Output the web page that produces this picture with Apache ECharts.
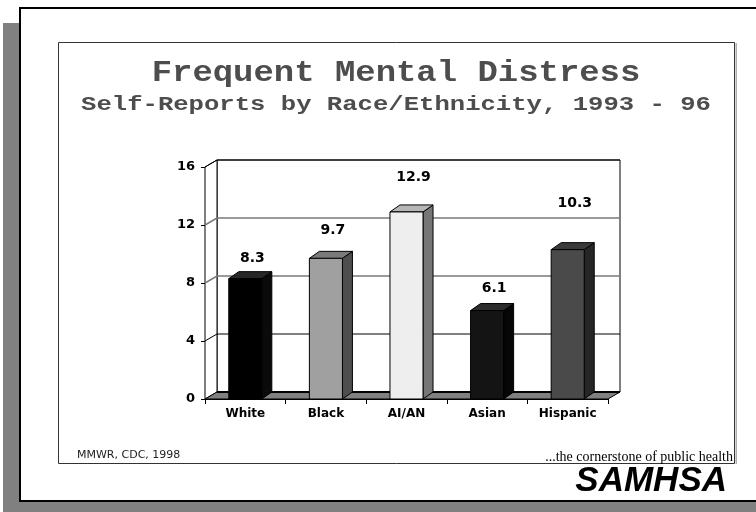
<!DOCTYPE html>
<html>
<head>
<meta charset="utf-8">
<style>
html, body { margin: 0; padding: 0; background: #fff; }
#chart { width: 756px; height: 512px; }
</style>
<script src="https://cdn.jsdelivr.net/npm/echarts@6/dist/echarts.min.js"></script>
</head>
<body>
<div id="chart"></div>
<script>
var categories = ['White', 'Black', 'AI/AN', 'Asian', 'Hispanic'];
var values = [8.3, 9.7, 12.9, 6.1, 10.3];
var yTicks = [0, 4, 8, 12, 16];

// bar faces: front, side, top
var barColors = [
  ['#000000', '#0a0a0a', '#262626'],
  ['#a0a0a0', '#4e4e4e', '#7a7a7a'],
  ['#eeeeee', '#767676', '#b6b6b6'],
  ['#141414', '#060606', '#2c2c2c'],
  ['#4a4a4a', '#262626', '#3a3a3a']
];
// how far each value label sits above its bar in the slide (px)
var labelLift = [20, 28, 35, 22, 46];
var gridColors = { 4: '#000', 8: '#7a7a7a', 12: '#7a7a7a', 16: '#000' };

var WALL_DX = 12, WALL_DY = -7;
var BAR_DX = 10, BAR_DY = -7;

var chart = echarts.init(document.getElementById('chart'));

function renderFrame(params, api) {
  var cs = params.coordSys;
  var x0 = cs.x, x1 = cs.x + cs.width, yt = cs.y, yb = cs.y + cs.height;
  var dx = WALL_DX, dy = WALL_DY;
  var kids = [];
  kids.push({ type: 'rect', shape: { x: x0 + dx, y: yt + dy, width: cs.width, height: cs.height },
    style: { fill: '#fff', stroke: '#000', lineWidth: 1 } });
  kids.push({ type: 'polygon', shape: { points: [[x0, yt], [x0 + dx, yt + dy], [x0 + dx, yb + dy], [x0, yb]] },
    style: { fill: '#fff', stroke: '#000', lineWidth: 1 } });
  yTicks.forEach(function (t) {
    if (t === 0) return;
    var y = api.coord([0, t])[1];
    kids.push({ type: 'polyline', shape: { points: [[x0, y], [x0 + dx, y + dy], [x1 + dx, y + dy]] },
      style: { fill: null, stroke: gridColors[t], lineWidth: (t === 8 || t === 12) ? 1.5 : 1 } });
  });
  kids.push({ type: 'polygon', shape: { points: [[x0, yb], [x0 + dx, yb + dy], [x1 + dx, yb + dy], [x1, yb]] },
    style: { fill: '#808080', stroke: '#000', lineWidth: 1 } });
  kids.push({ type: 'line', shape: { x1: x0 + dx, y1: yb + dy, x2: x1 + dx, y2: yb + dy },
    style: { stroke: '#000', lineWidth: 2 } });
  return { type: 'group', children: kids };
}

function renderBar(params, api) {
  var i = api.value(0), v = api.value(1);
  var top = api.coord([i, v]);
  var base = api.coord([i, 0]);
  var w = api.size([1, 0])[0] * 0.41;
  var xl = top[0] - w / 2, xr = top[0] + w / 2;
  var c = barColors[i];
  return { type: 'group', children: [
    { type: 'polygon', shape: { points: [[xr, top[1]], [xr + BAR_DX, top[1] + BAR_DY], [xr + BAR_DX, base[1] + BAR_DY], [xr, base[1]]] },
      style: { fill: c[1], stroke: '#000', lineWidth: 1 } },
    { type: 'polygon', shape: { points: [[xl, top[1]], [xl + BAR_DX, top[1] + BAR_DY], [xr + BAR_DX, top[1] + BAR_DY], [xr, top[1]]] },
      style: { fill: c[2], stroke: '#000', lineWidth: 1 } },
    { type: 'rect', shape: { x: xl, y: top[1], width: w, height: base[1] - top[1] },
      style: { fill: c[0], stroke: '#000', lineWidth: 1 } },
    { type: 'text', x: top[0] + 7, y: top[1] - labelLift[i],
      style: { text: v.toFixed(1), align: 'center', verticalAlign: 'middle',
        font: 'bold 14px "DejaVu Sans"', fill: '#000' } }
  ] };
}

var option = {
  animation: false,
  grid: { left: 205, right: 148, top: 167, bottom: 113 },
  xAxis: {
    type: 'category',
    data: categories,
    axisLine: { lineStyle: { color: '#000', width: 1 } },
    axisTick: { show: true, length: 5, lineStyle: { color: '#000' } },
    axisLabel: { margin: 9, color: '#000', fontFamily: 'DejaVu Sans', fontWeight: 'bold', fontSize: 12 }
  },
  yAxis: {
    type: 'value',
    min: 0, max: 16, interval: 4,
    axisLine: { show: true, lineStyle: { color: '#000' } },
    axisTick: { show: true, length: 4, lineStyle: { color: '#000' } },
    axisLabel: { margin: 10, color: '#000', fontFamily: 'DejaVu Sans', fontWeight: 'bold', fontSize: 13 },
    splitLine: { show: false }
  },
  graphic: [
    { type: 'rect', z: -10, shape: { x: 3, y: 23, width: 17, height: 489 }, style: { fill: '#808080' } },
    { type: 'rect', z: -10, shape: { x: 3, y: 502, width: 753, height: 10 }, style: { fill: '#808080' } },
    { type: 'rect', z: -9, shape: { x: 20, y: 8, width: 760, height: 493 }, style: { fill: '#fff', stroke: '#000', lineWidth: 2 } },
    { type: 'rect', z: -8, shape: { x: 735.5, y: 43, width: 1.5, height: 421 }, style: { fill: '#b0b0b0' } },
    { type: 'rect', z: -8, shape: { x: 58.5, y: 42.5, width: 676, height: 421 }, style: { fill: '#fff', stroke: '#333', lineWidth: 1 } },
    { type: 'text', z: 10, x: 396, y: 74, scaleX: 1.17,
      style: { text: 'Frequent Mental Distress', font: 'bold 29px "Liberation Mono"', fill: '#4d4d4d',
        align: 'center', verticalAlign: 'middle', shadowColor: '#c4c4c4', shadowOffsetX: 2, shadowOffsetY: 2 } },
    { type: 'text', z: 10, x: 396, y: 105, scaleX: 1.28,
      style: { text: 'Self-Reports by Race/Ethnicity, 1993 - 96', font: 'bold 20px "Liberation Mono"', fill: '#4d4d4d',
        align: 'center', verticalAlign: 'middle', shadowColor: '#c4c4c4', shadowOffsetX: 1.5, shadowOffsetY: 1.5 } },
    { type: 'text', z: 10, x: 77, y: 455,
      style: { text: 'MMWR, CDC, 1998', font: '11px "DejaVu Sans"', fill: '#222', align: 'left', verticalAlign: 'middle' } },
    { type: 'text', z: 10, x: 733, y: 464,
      style: { text: '...the cornerstone of public health', font: '14px "Liberation Serif"', fill: '#000', align: 'right', verticalAlign: 'bottom' } },
    { type: 'text', z: 10, x: 727, y: 481,
      style: { text: 'SAMHSA', font: 'italic bold 35px "Liberation Sans"', fill: '#000', align: 'right', verticalAlign: 'middle' } }
  ],
  series: [
    {
      type: 'custom',
      z: 1,
      silent: true,
      clip: false,
      renderItem: renderFrame,
      data: [[0, 0]]
    },
    {
      type: 'custom',
      z: 3,
      clip: false,
      renderItem: renderBar,
      data: values.map(function (v, i) { return [i, v]; })
    }
  ]
};

chart.setOption(option);
</script>
</body>
</html>
